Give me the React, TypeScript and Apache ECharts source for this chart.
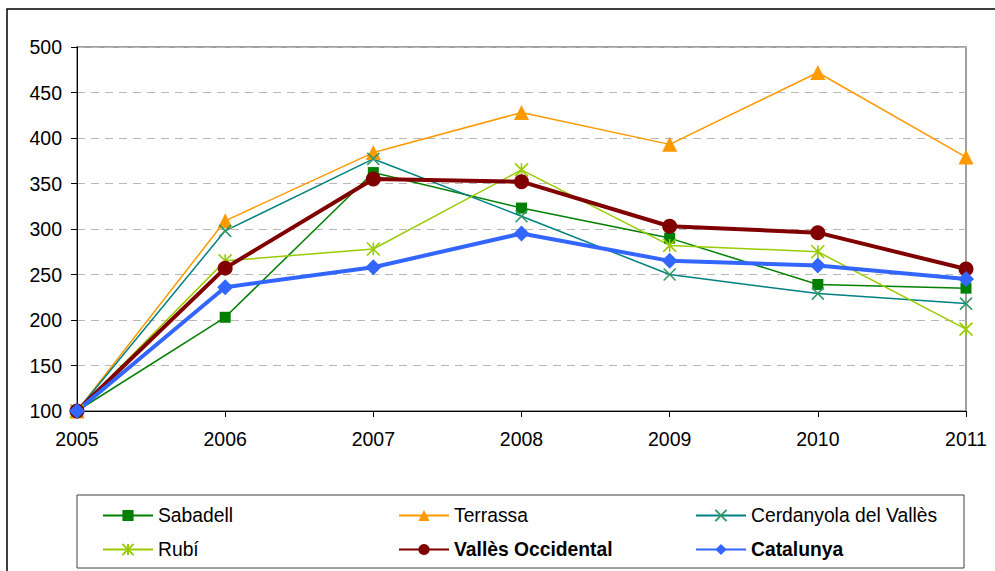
import React, { useEffect, useRef } from "react";
import * as echarts from "echarts";

const years = ["2005", "2006", "2007", "2008", "2009", "2010", "2011"];
const sabadell = [100, 203, 362, 323, 290, 239, 235];
const terrassa = [100, 309, 384, 428, 393, 472, 379];
const cerdanyola = [100, 298, 377, 314, 250, 229, 218];
const rubi = [100, 265, 278, 365, 282, 275, 190];
const valles = [100, 257, 355, 352, 303, 296, 256];
const catalunya = [100, 236, 258, 295, 265, 260, 245];

const FONT = "'Liberation Sans', Arial, sans-serif";
const XPATH = "path://M0,0L10,10M10,0L0,10";
const STARPATH = "path://M5,0L5,10M0,0L10,10M10,0L0,10";

export default function App() {
  const ref = useRef<HTMLDivElement>(null);
  useEffect(() => {
    if (!ref.current) return;
    const chart = echarts.init(ref.current, undefined, { renderer: "svg" });
    const mk = (name: string, data: number[], color: string, symbol: string, size: number, width: number) => ({
      name,
      type: "line",
      data,
      symbol,
      symbolSize: size,
      clip: false,
      lineStyle: { color, width },
      itemStyle: { color, borderColor: color, borderWidth: 0 },
      emphasis: { disabled: true },
    });
    const legendCols = [102, 398, 695];
    const legendRows = [513, 547];
    const legendItems = [
      { name: "Sabadell", bold: false },
      { name: "Terrassa", bold: false },
      { name: "Cerdanyola del Vallès", bold: false },
      { name: "Rubí", bold: false },
      { name: "Vallès Occidental", bold: true },
      { name: "Catalunya", bold: true },
    ];
    const legends = legendItems.map((it, i) => ({
      left: legendCols[i % 3],
      top: legendRows[Math.floor(i / 3)] - 7,
      itemWidth: 50,
      itemHeight: 14,
      padding: 0,
      selectedMode: false,
      data: [it.name],
      textStyle: {
        fontFamily: FONT,
        fontSize: 19.3,
        color: "#000",
        fontWeight: it.bold ? "bold" : "normal",
      },
    }));
    chart.setOption({
      animation: false,
      backgroundColor: "#fff",
      textStyle: { fontFamily: FONT },
      grid: {
        left: 77,
        top: 47,
        right: 29,
        bottom: 160,
        show: true,
        borderColor: "#808080",
        borderWidth: 1.5,
      },
      legend: legends,
      xAxis: {
        type: "category",
        data: years,
        boundaryGap: false,
        axisLine: { lineStyle: { color: "#000", width: 1 } },
        axisTick: { show: true, length: 6, inside: false, lineStyle: { color: "#000" } },
        axisLabel: { fontFamily: FONT, fontSize: 19.5, color: "#000", margin: 18 },
        splitLine: { show: false },
      },
      yAxis: {
        type: "value",
        min: 100,
        max: 500,
        interval: 50,
        axisLine: { show: true, lineStyle: { color: "#000", width: 1 } },
        axisTick: { show: true, length: 6, lineStyle: { color: "#000" } },
        axisLabel: { fontFamily: FONT, fontSize: 19.5, color: "#000", margin: 15 },
        splitLine: { show: true, lineStyle: { color: "#b8b8b8", type: [8, 6], width: 1 } },
      },
      graphic: [
        { type: "rect", shape: { x: 7, y: 9, width: 1100, height: 700 }, style: { fill: "none", stroke: "#000", lineWidth: 1.5 }, silent: true, z: -1 },
        { type: "rect", shape: { x: 77, y: 495, width: 887, height: 73 }, style: { fill: "none", stroke: "#404040", lineWidth: 1 }, silent: true },
      ],
      series: [
        mk("Sabadell", sabadell, "#008000", "rect", 11, 1.5),
        mk("Terrassa", terrassa, "#FF9900", "triangle", 15, 1.5),
        {
          ...mk("Cerdanyola del Vallès", cerdanyola, "#008080", XPATH, 12, 1.5),
          itemStyle: { color: "#339966", borderColor: "#339966", borderWidth: 1.6 },
        },
        {
          ...mk("Rubí", rubi, "#99CC00", STARPATH, 13, 1.5),
          itemStyle: { color: "#99CC00", borderColor: "#99CC00", borderWidth: 1.6 },
        },
        mk("Vallès Occidental", valles, "#800000", "circle", 15, 4),
        mk("Catalunya", catalunya, "#3366FF", "diamond", 16, 4),
      ],
    });
    return () => chart.dispose();
  }, []);
  return (
    <div
      ref={ref}
      style={{ position: "fixed", left: 0, top: 0, width: 995, height: 571, background: "#fff" }}
    />
  );
}
